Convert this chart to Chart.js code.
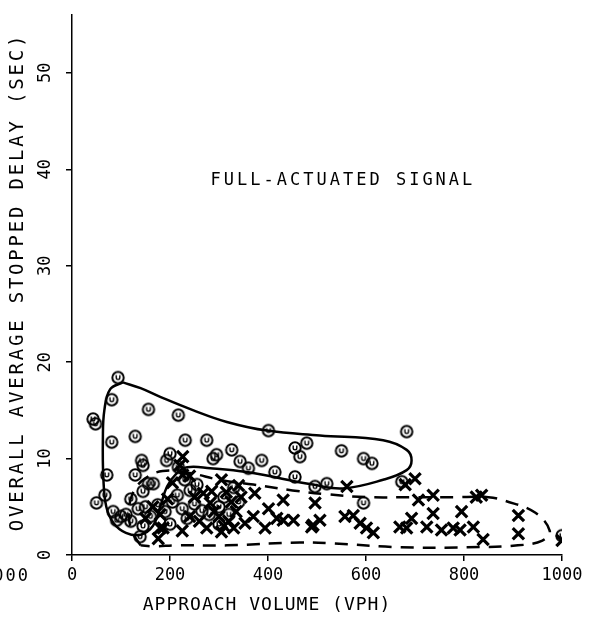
<!DOCTYPE html>
<html>
<head>
<meta charset="utf-8">
<script src="https://cdn.jsdelivr.net/npm/chart.js"></script>
<style>
  html, body { margin: 0; padding: 0; background: #fff; }
  #wrap { width: 597px; height: 617px; position: relative; }
</style>
</head>
<body>
<div id="wrap"><canvas id="delayChart"></canvas></div>
<script>
// values: approach volume (vph) and stopped delay (sec)
var circleVol   = [94, 81, 43, 48, 156, 217, 401, 683, 81, 129, 231, 275, 455, 479, 465, 550, 595, 612,
                   142, 145, 193, 200, 288, 295, 326, 387, 343, 360, 414, 455, 496, 520, 673, 595,
                   217, 71, 129, 67, 50, 156, 145, 241, 84, 91, 139, 166, 110, 120, 135, 150, 160,
                   175, 190, 205, 215, 225, 235, 250, 265, 280, 300, 310, 320, 330, 340, 300, 255,
                   230, 200, 145, 120, 100, 1000];
var circleDelay = [18.4, 16.1, 14.1, 13.6, 15.1, 14.5, 12.9, 12.8, 11.7, 12.3, 11.9, 11.9, 11.1, 11.6, 10.2, 10.8, 10.0, 9.5,
                   9.8, 9.3, 9.8, 10.5, 10.0, 10.4, 10.9, 9.8, 9.7, 9.0, 8.6, 8.1, 7.1, 7.4, 7.6, 5.4,
                   9.1, 8.3, 8.3, 6.2, 5.4, 7.4, 6.6, 6.7, 4.5, 3.6, 1.9, 7.4, 4.2, 3.5, 4.8, 5.0, 4.0,
                   5.2, 4.5, 5.5, 6.2, 4.8, 3.8, 5.3, 4.6, 4.2, 5.0, 6.0, 4.2, 7.0, 5.5, 3.2, 7.3,
                   7.8, 3.2, 3.0, 5.8, 4.0, 2.0];

var crossVol    = [220, 226, 226, 186, 176, 180, 305, 373, 431, 401, 370, 353, 394, 418, 431, 452, 492,
                   275, 305, 268, 285, 282, 700, 680, 561, 496, 707, 737, 836, 825, 795, 737, 693,
                   506, 489, 557, 574, 588, 601, 615, 669, 683, 724, 754, 778, 792, 819, 839, 911,
                   911, 1000, 315, 325, 335, 340, 320, 330, 345, 250, 240, 225, 205, 195, 180, 165,
                   150, 240, 260, 290, 300, 310];
var crossDelay  = [9.3, 10.2, 8.3, 2.8, 1.7, 2.8, 7.8, 6.4, 5.7, 4.8, 4.0, 3.3, 2.8, 3.8, 3.6, 3.6, 3.1,
                   2.8, 2.4, 6.4, 6.6, 5.4, 7.9, 7.3, 7.1, 5.4, 5.7, 6.2, 6.2, 6.0, 4.5, 4.3, 3.8,
                   3.6, 2.9, 4.0, 4.1, 3.3, 2.8, 2.3, 2.9, 2.8, 2.9, 2.6, 2.8, 2.6, 2.9, 1.6, 4.1,
                   2.2, 1.5, 6.5, 5.5, 4.5, 7.2, 3.5, 2.8, 6.0, 6.0, 4.0, 2.5, 7.5, 5.8, 4.2, 5.0,
                   3.8, 8.2, 3.5, 4.5, 4.0, 3.0];

// hand drawn envelopes round each group
var solidVol    = [104, 140, 180, 248, 316, 398, 506, 635, 683, 693, 683, 635, 553, 492, 357, 282, 235,
                   214, 194, 180, 165, 140, 110, 85, 70, 64, 63, 66, 78, 104];
var solidDelay  = [17.9, 17.3, 16.4, 15.0, 13.8, 12.9, 12.4, 11.9, 10.9, 9.8, 8.8, 7.8, 6.9, 7.3, 8.6, 9.0, 9.1,
                   8.5, 7.1, 5.0, 3.0, 2.1, 2.3, 3.3, 5.0, 8.0, 12.0, 15.0, 17.2, 17.9];
var dashVol     = [140, 122, 116, 125, 148, 185, 240, 300, 370, 450, 520, 600, 700, 780, 850, 885, 945,
                   975, 960, 910, 806, 669, 533, 465, 316, 214, 165, 140];
var dashDelay   = [1.0, 2.5, 4.5, 6.5, 7.9, 8.7, 8.5, 7.8, 7.3, 6.7, 6.3, 6.0, 6.0, 6.0, 6.0, 5.6, 4.4,
                   2.5, 1.5, 1.0, 0.8, 0.8, 1.2, 1.3, 1.0, 1.0, 0.9, 1.0];

var xTicks = [0, 200, 400, 600, 800, 1000];
var yTicks = [0, 10, 20, 30, 40, 50];

var xTitle = 'APPROACH VOLUME (VPH)';
var yTitle = 'OVERALL AVERAGE STOPPED DELAY (SEC)';
var panelNote = 'FULL-ACTUATED SIGNAL';

var plotFont = '"DejaVu Sans Mono", "Liberation Mono", monospace';

function pts(xs, ys) {
    return xs.map(function (v, i) { return { x: v, y: ys[i] }; });
}

// circle with a little mark inside, like the plotter symbol
function circleMark() {
    var c = document.createElement('canvas');
    c.width = 16; c.height = 16;
    var g = c.getContext('2d');
    g.strokeStyle = '#000';
    g.lineWidth = 2;
    g.beginPath(); g.arc(8, 8, 5.7, 0, Math.PI * 2); g.stroke();
    g.lineWidth = 1.4;
    g.beginPath();
    g.moveTo(6.2, 5.6); g.lineTo(6.2, 8.1);
    g.arc(8, 8.1, 1.8, Math.PI, 0, true);
    g.lineTo(9.8, 5.6);
    g.stroke();
    return c;
}

var plotterText = {
    id: 'plotterText',
    afterDraw: function (chart) {
        var ctx = chart.ctx;
        var xs = chart.scales.x, ys = chart.scales.y;
        ctx.save();
        ctx.fillStyle = '#000';
        ctx.textAlign = 'center';
        ctx.textBaseline = 'middle';

        // note inside the plot
        ctx.font = '17px ' + plotFont;
        ctx.letterSpacing = '3px';
        ctx.fillText(panelNote, xs.getPixelForValue(553), ys.getPixelForValue(38.8));

        // x title
        ctx.font = '18px ' + plotFont;
        ctx.letterSpacing = '1px';
        ctx.fillText(xTitle, 267, 605);

        // y title, reads bottom to top
        ctx.save();
        ctx.translate(18, 282);
        ctx.rotate(-Math.PI / 2);
        ctx.font = '19px ' + plotFont;
        ctx.letterSpacing = '2.8px';
        ctx.fillText(yTitle, 0, 0);
        ctx.restore();

        // edge of the neighbouring panel's tick label
        ctx.font = '17px ' + plotFont;
        ctx.letterSpacing = '2px';
        ctx.textAlign = 'right';
        ctx.fillText('1000', 30, 577);
        ctx.restore();
    }
};

window.onload = function () {
    var ctx = document.getElementById('delayChart').getContext('2d');
    var mark = circleMark();

    var axisGrid = {
        display: true,
        drawOnChartArea: false,
        drawTicks: true,
        tickLength: 6,
        color: '#000',
        lineWidth: 1.5
    };

    var chart = new Chart(ctx, {
        type: 'scatter',
        data: {
            datasets: [{
                label: 'circles',
                data: pts(circleVol, circleDelay),
                pointStyle: mark,
                pointRadius: 6,
                showLine: false
            }, {
                label: 'crosses',
                data: pts(crossVol, crossDelay),
                pointStyle: 'crossRot',
                pointRadius: 8,
                pointBorderWidth: 3.2,
                borderColor: '#000',
                backgroundColor: '#000',
                showLine: false
            }, {
                label: 'solid envelope',
                data: pts(solidVol, solidDelay),
                showLine: true,
                pointRadius: 0,
                borderColor: '#000',
                borderWidth: 2.5,
                tension: 0.4,
                fill: false
            }, {
                label: 'dashed envelope',
                data: pts(dashVol, dashDelay),
                showLine: true,
                pointRadius: 0,
                borderColor: '#000',
                borderWidth: 2.5,
                borderDash: [13, 9],
                tension: 0.4,
                fill: false
            }]
        },
        options: {
            responsive: true,
            maintainAspectRatio: false,
            devicePixelRatio: 1,
            animation: false,
            layout: { padding: { top: 15, right: 35, left: 0, bottom: 0 } },
            plugins: {
                legend: { display: false },
                tooltip: { enabled: false }
            },
            scales: {
                x: {
                    type: 'linear',
                    min: 0,
                    max: 1000,
                    border: { display: true, color: '#000', width: 1.5 },
                    grid: axisGrid,
                    ticks: {
                        color: '#000',
                        font: { family: plotFont, size: 17 },
                        padding: 4,
                        maxRotation: 0,
                        autoSkip: false,
                        callback: function (v) { return String(v); }
                    },
                    afterBuildTicks: function (s) {
                        s.ticks = xTicks.map(function (v) { return { value: v }; });
                    },
                    afterFit: function (s) { s.height = 62; }
                },
                y: {
                    type: 'linear',
                    min: 0,
                    max: 56,
                    border: { display: true, color: '#000', width: 1.5 },
                    grid: axisGrid,
                    ticks: {
                        color: '#000',
                        font: { family: plotFont, size: 17 },
                        padding: 10,
                        minRotation: 90,
                        maxRotation: 90,
                        crossAlign: 'center',
                        autoSkip: false,
                        callback: function (v) { return String(v); }
                    },
                    afterBuildTicks: function (s) {
                        s.ticks = yTicks.map(function (v) { return { value: v }; });
                    },
                    afterFit: function (s) {
                        s.width = 72;
                        s.paddingTop = 0;
                        s.paddingBottom = 0;
                    }
                }
            }
        },
        plugins: [plotterText]
    });
};
</script>
</body>
</html>
